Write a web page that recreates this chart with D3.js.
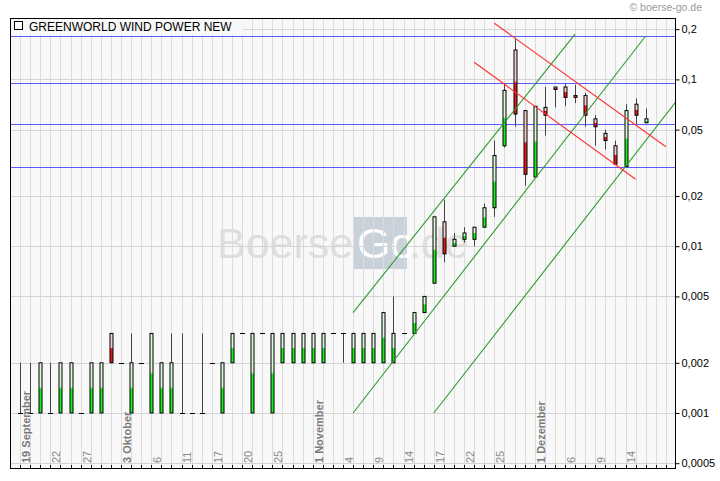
<!DOCTYPE html>
<html><head><meta charset="utf-8">
<script src="https://cdn.jsdelivr.net/npm/d3@7"></script>
<style>
html,body{margin:0;padding:0;background:#fff;}
svg text{font-family:"Liberation Sans",Arial,sans-serif;}
</style></head>
<body>
<svg id="c" width="720" height="481"></svg>
<script>
// ---- data ----
const title = "GREENWORLD WIND POWER NEW";
const copyright = "© boerse-go.de";
const opens  = [0.001,0.001,0.001,0.001,0.001,0.001,0.001,0.001,0.001,0.003,
                0.002,0.001,0.002,0.001,0.001,0.001,0.001,0.001,0.001,0.002,
                0.001,0.002,0.003,0.001,0.003,0.001,0.002,0.002,0.002,0.002,
                0.002,0.003,0.003,0.002,0.002,0.002,0.002,0.002,0.003,0.003,
                0.004,0.006,0.014,0.010,0.011,0.011,0.013,0.017,0.040,0.150,
                0.065,0.026,0.068,0.090,0.090,0.080,0.080,0.058,0.0475,0.040,
                0.030,0.071,0.055];
const highs  = [0.002,0.002,0.002,0.002,0.002,0.002,0.001,0.002,0.002,0.003,
                0.002,0.003,0.002,0.003,0.002,0.003,0.003,0.001,0.003,0.002,
                0.002,0.003,0.003,0.003,0.003,0.003,0.003,0.003,0.003,0.003,
                0.003,0.003,0.003,0.003,0.003,0.003,0.004,0.005,0.003,0.004,
                0.005,0.015,0.019,0.012,0.013,0.013,0.018,0.043,0.095,0.176,
                0.065,0.069,0.090,0.090,0.094,0.093,0.083,0.061,0.050,0.043,
                0.071,0.077,0.067];
const lows   = [0.001,0.001,0.001,0.001,0.001,0.001,0.001,0.001,0.001,0.002,
                0.002,0.001,0.002,0.001,0.001,0.001,0.001,0.001,0.001,0.002,
                0.001,0.002,0.003,0.001,0.003,0.001,0.002,0.002,0.002,0.002,
                0.002,0.003,0.002,0.002,0.002,0.002,0.002,0.002,0.003,0.003,
                0.004,0.006,0.008,0.010,0.0105,0.010,0.013,0.015,0.039,0.052,
                0.023,0.026,0.046,0.068,0.069,0.072,0.052,0.040,0.038,0.031,
                0.030,0.054,0.055];
const closes = [0.001,0.001,0.002,0.001,0.002,0.002,0.001,0.002,0.002,0.002,
                0.002,0.002,0.002,0.003,0.002,0.002,0.001,0.001,0.001,0.002,
                0.002,0.003,0.003,0.003,0.003,0.003,0.003,0.003,0.003,0.003,
                0.003,0.003,0.003,0.003,0.003,0.003,0.004,0.003,0.003,0.004,
                0.005,0.015,0.009,0.011,0.012,0.013,0.017,0.035,0.086,0.062,
                0.027,0.069,0.061,0.087,0.078,0.078,0.061,0.052,0.043,0.031,
                0.065,0.061,0.058];
const xTickSlots  = [1,4,7,11,14,17,20,23,26,30,33,36,39,42,45,48,52,55,58,61];
const xTickLabels = ["19 September","22","27","3 Oktober","6","11","17","20","25",
                     "1 November","4","9","14","17","22","25","1 Dezember","6","9","14"];
const xTickMonth  = [1,0,0,1,0,0,0,0,0,1,0,0,0,0,0,0,1,0,0,0];
const yTickValues = [0.2,0.1,0.05,0.02,0.01,0.005,0.002,0.001,0.0005];
const yTickLabels = ["0,2","0,1","0,05","0,02","0,01","0,005","0,002","0,001","0,0005"];
const blueLevels  = [0.181,0.095,0.054,0.030];
// trend lines: [slot, price] endpoints
const greenLines = [[[33,0.004],[55,0.187]],[[33,0.001],[62,0.182]],[[41,0.001],[65,0.0735]]];
const redLines   = [[[47,0.217],[64,0.0395]],[[45,0.1266],[61,0.0252]]];

// ---- layout ----
const L = 10, R = 675, T = 18, B = 468;
const svg = d3.select("#c");
const x = d3.scaleLinear().domain([0,62]).range([20.1,645.7]);
const y = d3.scaleLog().domain([0.000468,0.2334]).range([B,T]);

const defs = svg.append("defs");
defs.append("clipPath").attr("id","pc").append("rect")
  .attr("x",L).attr("y",T).attr("width",R-L).attr("height",B-T);
function grad(id, pale, sat){
  const g = defs.append("linearGradient").attr("id",id).attr("x1",0).attr("y1",0).attr("x2",0).attr("y2",1);
  g.append("stop").attr("offset","0%").attr("stop-color",pale);
  g.append("stop").attr("offset","48%").attr("stop-color",pale);
  g.append("stop").attr("offset","52%").attr("stop-color",sat);
  g.append("stop").attr("offset","100%").attr("stop-color",sat);
}
grad("gUp","#dcf8dc","#18ee18");
grad("gDn","#f8cccc","#e81818");

// background
svg.append("rect").attr("x",L).attr("y",T).attr("width",R-L).attr("height",B-T).attr("fill","#f8f8f8");

const plot = svg.append("g").attr("clip-path","url(#pc)");

// watermark
const wm = plot.append("g");
wm.append("text").attr("x",217).attr("y",258).attr("font-size",43).attr("fill","#dedede").text("Boerse");
wm.append("rect").attr("x",354).attr("y",217).attr("width",53).attr("height",52).attr("fill","#c9d2db");
wm.append("text").attr("x",357).attr("y",258).attr("font-size",43).attr("fill","#ffffff").text("Go");
wm.append("text").attr("x",409).attr("y",258).attr("font-size",43).attr("fill","#dedede").text(".de");

// grid
const slots = d3.range(0,65);
plot.append("g").selectAll("line").data(slots).join("line")
  .attr("x1",d=>Math.round(x(d))+0.5).attr("x2",d=>Math.round(x(d))+0.5)
  .attr("y1",T).attr("y2",B).attr("stroke","#dcdcdc").attr("stroke-width",1);
plot.append("g").selectAll("line").data(yTickValues).join("line")
  .attr("x1",L).attr("x2",R).attr("y1",d=>Math.round(y(d))+0.5).attr("y2",d=>Math.round(y(d))+0.5)
  .attr("stroke","#d4d4d4").attr("stroke-width",1);

// title background
plot.append("rect").attr("x",L+1).attr("y",T+1).attr("width",232).attr("height",16).attr("fill","#f8f8f8");

// blue levels
plot.append("g").selectAll("line").data(blueLevels).join("line")
  .attr("x1",L).attr("x2",R).attr("y1",d=>Math.round(y(d))+0.5).attr("y2",d=>Math.round(y(d))+0.5)
  .attr("stroke","#5a5aff").attr("stroke-width",1);

// candles
const data = opens.map((o,i)=>({i,o,h:highs[i],l:lows[i],c:closes[i]}));
const cg = plot.append("g");
data.forEach(d=>{
  const cx = Math.round(x(d.i))+0.5;
  if (d.h !== d.l) {
    cg.append("line").attr("x1",cx).attr("x2",cx)
      .attr("y1",y(d.h)).attr("y2",y(d.l)).attr("stroke","#444").attr("stroke-width",1);
  }
  if (d.o === d.c) {
    cg.append("line").attr("x1",cx-2.5).attr("x2",cx+2.5)
      .attr("y1",Math.round(y(d.o))+0.5).attr("y2",Math.round(y(d.o))+0.5)
      .attr("stroke","#000").attr("stroke-width",1);
  } else {
    const top = y(Math.max(d.o,d.c)), bot = y(Math.min(d.o,d.c));
    cg.append("rect").attr("x",cx-1.5).attr("width",3)
      .attr("y",top).attr("height",Math.max(1,bot-top))
      .attr("fill", d.c>d.o ? "url(#gUp)" : "url(#gDn)")
      .attr("stroke","#000").attr("stroke-width",1);
  }
});

// trend lines
const lineGen = d3.line().x(p=>x(p[0])).y(p=>y(p[1]));
plot.append("g").selectAll("path").data(greenLines).join("path")
  .attr("d",lineGen).attr("fill","none").attr("stroke","#2e9a2e").attr("stroke-width",1.1);
plot.append("g").selectAll("path").data(redLines).join("path")
  .attr("d",lineGen).attr("fill","none").attr("stroke","#ff3030").attr("stroke-width",1.1);

// x labels
const xl = svg.append("g");
xTickSlots.forEach((s,k)=>{
  const px = x(s)-4, py = 463;
  xl.append("text").attr("transform",`translate(${px},${py}) rotate(-90)`)
    .attr("dy","0.35em")
    .attr("font-size",11)
    .attr("font-weight", xTickMonth[k] ? "bold" : "normal")
    .attr("fill", xTickMonth[k] ? "#7a7a7a" : "#8a8a8a")
    .text(xTickLabels[k]);
});

// bottom ticks
svg.append("g").selectAll("line").data(slots.filter(s=>x(s)<R)).join("line")
  .attr("x1",d=>Math.round(x(d))+0.5).attr("x2",d=>Math.round(x(d))+0.5)
  .attr("y1",B-3).attr("y2",B).attr("stroke","#000");

// frame
svg.append("rect").attr("x",L+0.5).attr("y",T+0.5).attr("width",R-L).attr("height",B-T)
  .attr("fill","none").attr("stroke","#000").attr("stroke-width",1);

// right axis
const ax = svg.append("g").attr("transform",`translate(${R+0.5},0)`)
  .call(d3.axisRight(y).tickValues(yTickValues).tickSize(4).tickPadding(2)
    .tickFormat((d,i)=>yTickLabels[i]));
ax.select(".domain").remove();
ax.selectAll("text").attr("font-size",11).attr("fill","#000")
  .attr("font-family","'Liberation Sans',Arial,sans-serif");
ax.selectAll("line").attr("stroke","#000");

// title
svg.append("rect").attr("x",14.5).attr("y",21.5).attr("width",8).attr("height",8)
  .attr("fill","#fff").attr("stroke","#000");
svg.append("text").attr("x",29).attr("y",31).attr("font-size",12).attr("fill","#000").text(title);

// copyright
svg.append("text").attr("x",702).attr("y",11).attr("text-anchor","end")
  .attr("font-family","'DejaVu Sans',sans-serif")
  .attr("font-size",10.5).attr("fill","#999").text(copyright);
</script>
</body></html>
